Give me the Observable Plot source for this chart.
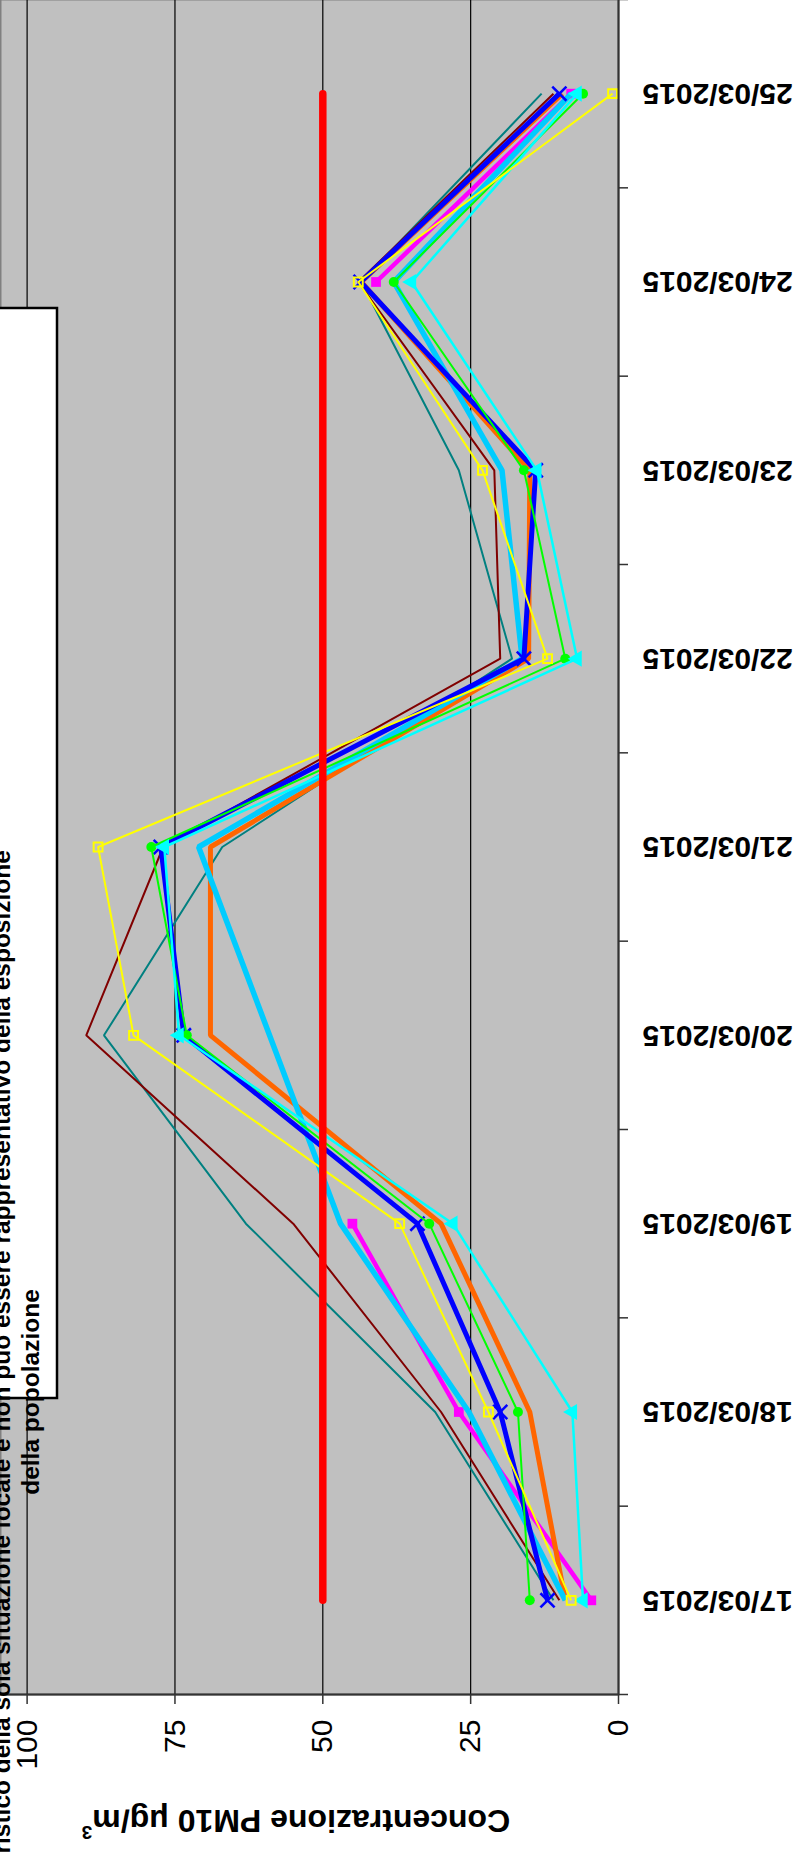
<!DOCTYPE html>
<html><head><meta charset="utf-8">
<script src="https://cdn.jsdelivr.net/npm/d3@7"></script>
<script src="https://cdn.jsdelivr.net/npm/@observablehq/plot@0.6"></script>
<style>
html,body{margin:0;padding:0;background:#fff;}
#wrap{position:relative;width:795px;height:1854px;overflow:hidden;background:#fff;}
#wrap svg{position:absolute;left:0;top:0;max-width:none !important;width:1854px !important;height:795px !important;transform-origin:0 0;transform:translate(0px,1854px) rotate(-90deg);}
</style></head><body><div id="wrap"></div>
<script>
// ---- data ----
const dates = ["17/03/2015","18/03/2015","19/03/2015","20/03/2015","21/03/2015","22/03/2015","23/03/2015","24/03/2015","25/03/2015"];
const valueTicks = [0, 25, 50, 75, 100];
const limite = [50, 50, 50, 50, 50, 50, 50, 50, 50];
const seriesTeal = [11, 31, 63, 87, 67, 18, 27, 43.5, 13];
const seriesMaroon = [10, 30, 55, 90, 77, 20, 21, 44, 11];
const seriesMagenta = [4.6, 27, 45, null, null, null, null, 41, 8];
const seriesOrange = [9, 15, 30, 69, 69, 15.2, 15, 43.5, 9.5];
const seriesSkyBlue = [9, 25.3, 47, null, 71, 16.3, 19.7, 38, 8];
const seriesBlue = [12, 20, 34, 73.5, 77.4, 16, 14, 43.6, 10];
const seriesGreen = [15, 17, 32, 73, 79, 9, 16, 38, 6];
const seriesCyan = [6, 7.8, 28, 74.3, 76.8, 7, 13.8, 35, 7];
const seriesYellow = [8, 22, 37, 82, 88, 12, 23, 44, 1];
const noteLines = ["caratteristico della sola situazione locale e non può essere rappresentativo della esposizione", "della popolazione"];

// ---- styles ----
const series = [
  {values: seriesTeal,    color: "#008080", width: 2},
  {values: seriesMaroon,  color: "#800000", width: 2},
  {values: seriesMagenta, color: "#FF00FF", width: 4.5, symbol: "square", fill: "#FF00FF", r: 5.5},
  {values: seriesOrange,  color: "#FF6600", width: 5},
  {values: seriesSkyBlue, color: "#00CCFF", width: 5.5, bridge: true},
  {values: seriesBlue,    color: "#0000FF", width: 5, symbol: "times", fill: "none", r: 6.5, sw: 2.5},
  {values: seriesGreen,   color: "#00FF00", width: 2, symbol: "circle", fill: "#00FF00", r: 5},
  {values: seriesCyan,    color: "#00FFFF", width: 2.5, symbol: "triangle", fill: "#00FFFF", r: 6},
  {values: seriesYellow,  color: "#FFFF00", width: 2, symbol: "square", fill: "none", r: 5, sw: 2}
];

const toRows = (vals) => vals.map((v, i) => ({i, v}));

const marks = [
  Plot.frame({fill: "#C0C0C0", stroke: "#808080", strokeWidth: 2}),
  Plot.gridY([25, 50, 75, 100], {stroke: "#000", strokeOpacity: 1, strokeWidth: 1.2})
];
for (const s of series) {
  let rows = toRows(s.values);
  if (s.bridge) rows = rows.filter(d => d.v != null);
  marks.push(Plot.line(rows, {x: "i", y: "v", stroke: s.color, strokeWidth: s.width, strokeLinejoin: "miter", strokeLinecap: "butt"}));
  if (s.symbol) {
    const pts = rows.filter(d => d.v != null);
    marks.push(Plot.dot(pts, {x: "i", y: "v", symbol: s.symbol, r: s.r,
      fill: s.fill === "none" ? "none" : s.fill,
      stroke: s.fill === "none" ? s.color : "none",
      strokeWidth: s.sw || 1}));
  }
}
marks.push(Plot.line(toRows(limite), {x: "i", y: "v", stroke: "#FF0000", strokeWidth: 7.5, strokeLinecap: "round"}));
marks.push(Plot.ruleY([0], {stroke: "#333", strokeWidth: 2}));
marks.push(Plot.ruleX([-0.5], {stroke: "#333", strokeWidth: 2}));
marks.push(Plot.axisY(valueTicks, {tickSize: 9, tickPadding: 16, fontSize: 30, label: null, stroke: "#333", strokeWidth: 1.5, tickFormat: d => String(d)}));
marks.push(Plot.axisX(d3.range(-0.5, 9, 1), {tickSize: 10, label: null, stroke: "#333", strokeWidth: 1.5, tickFormat: () => ""}));
marks.push(Plot.axisX(d3.range(dates.length), {tickSize: 0, tickPadding: 24, tickRotate: -90, fontSize: 30, fontWeight: "bold", label: null, tickFormat: i => dates[i]}));

const plot = Plot.plot({
  width: 1854, height: 795,
  marginLeft: 159, marginRight: 0, marginTop: 0, marginBottom: 177,
  style: {background: "white", color: "black", fontFamily: "'Liberation Sans', Arial, sans-serif", overflow: "visible", maxWidth: "none"},
  x: {type: "linear", domain: [-0.5, dates.length - 0.5]},
  y: {domain: [0, 104.5]},
  marks
});
document.getElementById("wrap").appendChild(plot);

const svg = d3.select(plot);
svg.selectAll('[aria-label="x-axis tick label"] text').attr("font-weight", "bold");

// note box (cropped at the top of the original chart)
const note = svg.append("g");
note.append("rect").attr("x", 456).attr("y", -30).attr("width", 1090).attr("height", 87)
  .attr("fill", "white").attr("stroke", "black").attr("stroke-width", 2.5);
noteLines.forEach((t, k) => {
  note.append("text").attr("x", 462).attr("y", 10 + k * 29)
    .attr("font-family", "'Liberation Sans', Arial, sans-serif").attr("font-weight", "bold")
    .attr("font-size", 24.5).attr("fill", "black").text(t);
});

// axis title
const title = svg.append("text")
  .attr("transform", "translate(44,296) rotate(-90)")
  .attr("text-anchor", "middle")
  .attr("font-family", "'Liberation Sans', Arial, sans-serif").attr("font-weight", "bold")
  .attr("font-size", 32).attr("fill", "black");
title.append("tspan").text("Concentrazione PM10 μg/m");
title.append("tspan").attr("font-size", 19).attr("dy", -16).text("3");
</script>
</body></html>
